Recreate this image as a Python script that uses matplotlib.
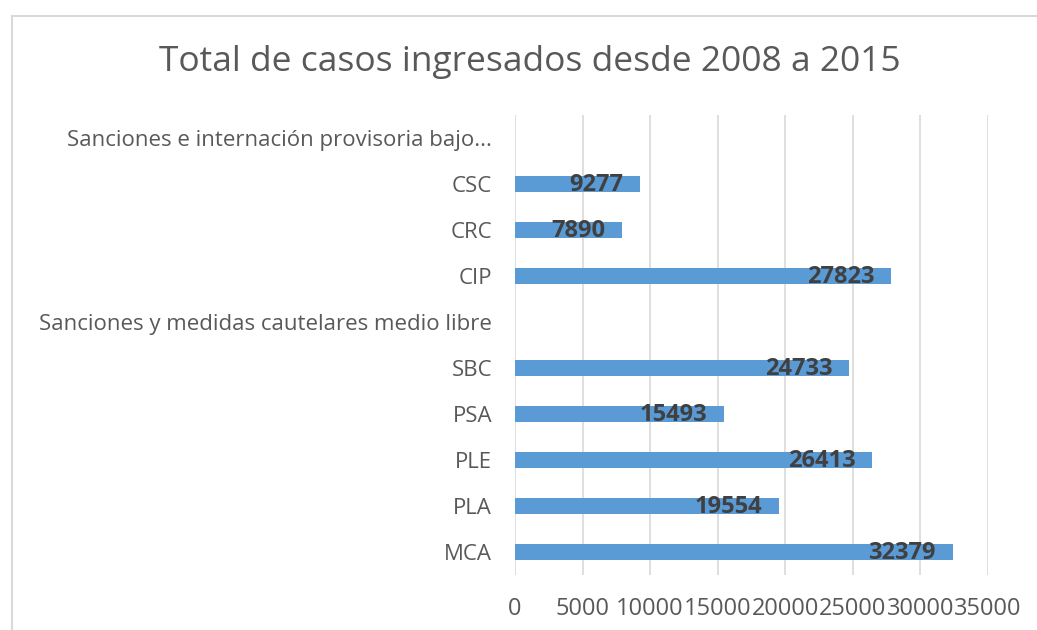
import matplotlib.pyplot as plt
from matplotlib.lines import Line2D

plt.rcParams['font.family'] = ['Open Sans', 'DejaVu Sans']

# bottom to top, as drawn
categories = ['MCA', 'PLA', 'PLE', 'PSA', 'SBC',
              'Sanciones y medidas cautelares medio libre',
              'CIP', 'CRC', 'CSC',
              'Sanciones e internación provisoria bajo...']
values = [32379, 19554, 26413, 15493, 24733, None, 27823, 7890, 9277, None]
x_ticks = [0, 5000, 10000, 15000, 20000, 25000, 30000, 35000]

bar_color = '#5B9BD5'
text_color = '#595959'
label_color = '#404040'

fig = plt.figure(figsize=(10.37, 6.30), dpi=100)
ax = fig.add_axes([0.4966, 0.0873, 0.4561, 0.7302])

ypos = list(range(len(categories)))
for y, v in zip(ypos, values):
    if v is None:
        continue
    ax.barh(y, v, height=0.35, color=bar_color, zorder=2)
    ax.annotate(str(v), xy=(v, y), xytext=(-12, -1), textcoords='offset points',
                ha='right', va='center', fontsize=17, fontweight='bold',
                color=label_color, zorder=3)

ax.set_xlim(0, 35000)
ax.set_ylim(-0.5, len(categories) - 0.5)
ax.set_xticks(x_ticks)
ax.set_xticklabels([str(t) for t in x_ticks])
ax.set_yticks(ypos)
ax.set_yticklabels(categories)
ax.tick_params(axis='both', length=0, labelcolor=text_color)
ax.tick_params(axis='x', labelsize=17, pad=16)
ax.tick_params(axis='y', labelsize=16, pad=16.5)

ax.grid(axis='x', color='#D9D9D9', linewidth=1.2, zorder=0)
ax.set_axisbelow(True)
for s in ax.spines.values():
    s.set_visible(False)

fig.text(0.511, 0.901, 'Total de casos ingresados desde 2008 a 2015',
         ha='center', va='center', fontsize=25.5, color=text_color)

# chart-area border (top and left visible in the crop)
fig.add_artist(Line2D([11.5 / 1037, 11.5 / 1037], [0, 1 - 15.5 / 630],
                      transform=fig.transFigure, color='#D9D9D9', lw=1.5))
fig.add_artist(Line2D([11.5 / 1037, 1], [1 - 15.5 / 630, 1 - 15.5 / 630],
                      transform=fig.transFigure, color='#D9D9D9', lw=1.5))

fig.savefig('out.png', dpi=100)
